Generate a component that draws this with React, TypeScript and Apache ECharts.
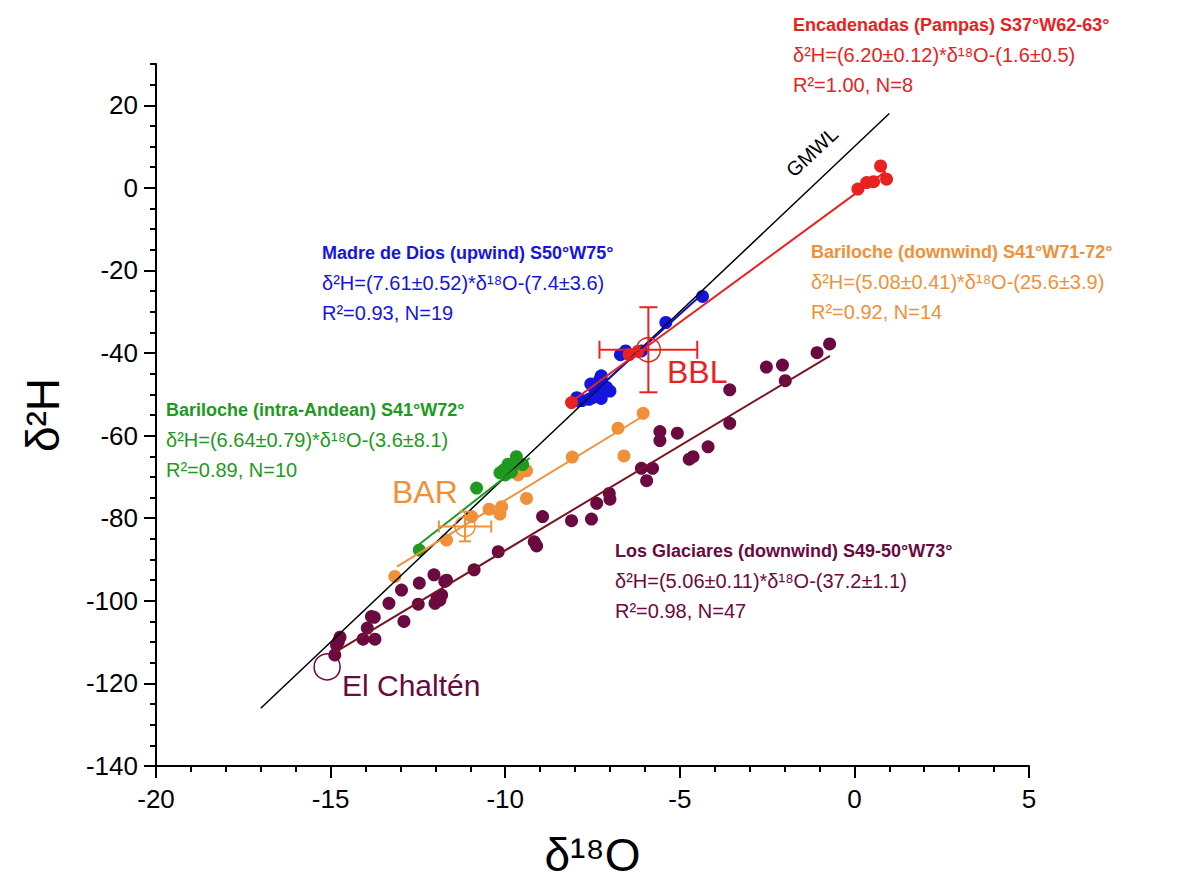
import React, { useEffect, useRef } from "react";
import * as echarts from "echarts";

const FONT = "'Liberation Sans', Arial, sans-serif";

const yTicks = [-140, -120, -100, -80, -60, -40, -20, 0, 20];

// Encadenadas (Pampas)
const encadenadas = [
  [-8.1, -52.0], [-6.45, -40.4], [-6.2, -39.6],
  [0.1, -0.3], [0.35, 1.3], [0.55, 1.5], [0.75, 5.3], [0.92, 2.1],
];
// Madre de Dios (upwind)
const madreDeDios = [
  [-4.35, -26.3], [-5.4, -32.6], [-6.1, -39.5], [-6.55, -39.5], [-6.7, -40.4],
  [-7.25, -45.5], [-7.3, -46.5], [-7.55, -47.5], [-7.45, -48.5], [-7.1, -48.3],
  [-7.2, -49.5], [-7.35, -50.5], [-7.5, -50.8], [-7.6, -51.2], [-7.0, -49.2],
  [-7.8, -51.5], [-7.95, -50.8], [-7.25, -51.0], [-7.4, -49.8],
];
// Bariloche (downwind)
const barilocheDown = [
  [-6.05, -54.6], [-6.77, -58.2], [-6.6, -64.9], [-8.08, -65.2], [-9.39, -68.5],
  [-9.63, -69.5], [-9.5, -68.2], [-9.39, -75.2], [-10.1, -77.2], [-10.46, -77.8],
  [-10.15, -79.0], [-10.96, -79.6], [-11.68, -85.3], [-13.16, -94.1],
];
// Bariloche (intra-Andean)
const barilocheIntra = [
  [-9.68, -65.1], [-9.92, -66.9], [-10.15, -69.0], [-10.04, -68.3], [-9.82, -68.8],
  [-9.5, -67.0], [-10.82, -72.7], [-12.46, -87.7], [-9.75, -67.0], [-10.0, -69.5],
];
// Los Glaciares (downwind)
const losGlaciares = [
  [-0.71, -37.8], [-1.07, -39.9], [-1.98, -46.7], [-2.06, -42.9], [-2.52, -43.4],
  [-3.57, -48.9], [-3.57, -57.0], [-4.19, -62.7], [-4.62, -65.1], [-4.73, -65.7],
  [-5.07, -59.4], [-5.57, -59.0], [-5.57, -61.2], [-5.78, -67.9], [-6.1, -67.9],
  [-5.95, -70.9], [-7.02, -74.0], [-7.0, -75.4], [-7.38, -76.4], [-7.53, -80.2],
  [-8.1, -80.6], [-8.93, -79.6], [-9.17, -85.7], [-9.1, -86.7], [-10.2, -88.1],
  [-10.89, -92.5], [-12.04, -93.7], [-11.73, -95.3], [-12.46, -95.7], [-12.97, -97.4],
  [-11.82, -98.6], [-11.87, -99.8], [-12.01, -100.6], [-12.49, -100.8], [-13.33, -100.6],
  [-13.83, -103.8], [-13.75, -104.0], [-12.9, -105.0], [-13.95, -106.6], [-14.73, -108.8],
  [-14.78, -109.9], [-14.07, -109.3], [-13.73, -109.3], [-14.83, -110.7], [-14.88, -113.1],
  [-11.68, -95.0], [-11.95, -99.2],
];

// Fit lines (end points)
const gmwlLine = [[-17, -126], [1, 18]];
const encadenadasFit = [[-8.2, -52.4], [0.9, 4.0]];
const madreDeDiosFit = [[-7.95, -53.1], [-4.3, -25.3]];
const barilocheDownFit = [[-13.1, -91.7], [-6.0, -55.0]];
const barilocheIntraFit = [[-12.46, -86.3], [-9.3, -65.4]];
const losGlaciaresFit = [[-14.9, -112.6], [-0.7, -40.7]];

// Reference points: [x, y, xErr, yErr]
const bbl = [[-5.9, -39.2, 1.4, 10.3]];
const bar = [[-11.15, -82.0, 0.75, 3.6]];
const elChalten = [[-15.1, -116.0]];

const RED = "#E8221F";
const BLUE = "#1515E0";
const ORANGE = "#F0913A";
const GREEN = "#1E9A1E";
const PURPLE = "#6A0A40";
const PURPLE_LINE = "#7A1525";

function scatter(name: string, data: number[][], color: string) {
  return {
    name,
    type: "scatter",
    data,
    symbolSize: 13,
    itemStyle: { color, opacity: 1 },
    z: 2,
  };
}

function fit(name: string, data: number[][], color: string, width = 2) {
  return {
    name,
    type: "line",
    data,
    showSymbol: false,
    symbol: "none",
    lineStyle: { color, width },
    z: 3,
    silent: true,
  };
}

function errorBars(name: string, data: number[][], color: string, cap: number) {
  return {
    name,
    type: "custom",
    data,
    z: 4,
    renderItem: (params: any, api: any) => {
      const x = api.value(0);
      const y = api.value(1);
      const ex = api.value(2);
      const ey = api.value(3);
      const l = api.coord([x - ex, y]);
      const r = api.coord([x + ex, y]);
      const t = api.coord([x, y + ey]);
      const b = api.coord([x, y - ey]);
      const style = { stroke: color, lineWidth: 2 };
      return {
        type: "group",
        children: [
          { type: "line", shape: { x1: l[0], y1: l[1], x2: r[0], y2: r[1] }, style },
          { type: "line", shape: { x1: t[0], y1: t[1], x2: b[0], y2: b[1] }, style },
          { type: "line", shape: { x1: l[0], y1: l[1] - cap, x2: l[0], y2: l[1] + cap }, style },
          { type: "line", shape: { x1: r[0], y1: r[1] - cap, x2: r[0], y2: r[1] + cap }, style },
          { type: "line", shape: { x1: t[0] - cap, y1: t[1], x2: t[0] + cap, y2: t[1] }, style },
          { type: "line", shape: { x1: b[0] - cap, y1: b[1], x2: b[0] + cap, y2: b[1] }, style },
        ],
      };
    },
  };
}

function openCircle(name: string, data: number[][], color: string, size: number) {
  return {
    name,
    type: "scatter",
    data: data.map((d) => [d[0], d[1]]),
    symbolSize: size,
    itemStyle: { color: "rgba(255,255,255,0)", borderColor: color, borderWidth: 1.5, opacity: 1 },
    z: 5,
  };
}

function textBlock(x: number, y: number, color: string, lines: string[]) {
  return lines.map((t, i) => ({
    type: "text",
    x,
    y: y + i * 30,
    z: 10,
    style: {
      text: t,
      fill: color,
      font: i === 0 ? `bold 18px ${FONT}` : `20px ${FONT}`,
      verticalAlign: "middle",
    },
  }));
}

function label(x: number, y: number, color: string, text: string, size: number, rotation = 0) {
  return {
    type: "text",
    x,
    y,
    rotation,
    z: 10,
    style: {
      text,
      fill: color,
      font: `${size}px ${FONT}`,
      verticalAlign: "middle",
      align: rotation ? "center" : "left",
    },
  };
}

export default function App() {
  const ref = useRef<HTMLDivElement>(null);
  useEffect(() => {
    document.body.style.margin = "0";
    const chart = echarts.init(ref.current!, undefined, { renderer: "svg" });
    const line = () => ({ color: "#000", width: 2 });
    chart.setOption({
      animation: false,
      backgroundColor: "#fff",
      grid: {
        left: 156,
        top: 64,
        width: 873,
        height: 702,
        containLabel: false,
        outerBoundsMode: "none",
      },
      xAxis: {
        type: "value",
        min: -20,
        max: 5,
        interval: 5,
        name: "δ¹⁸O",
        nameLocation: "middle",
        nameGap: 66,
        nameTextStyle: { fontSize: 46, color: "#000", fontFamily: FONT },
        axisLine: { onZero: false, lineStyle: line() },
        axisTick: { show: true, length: 12, lineStyle: line() },
        minorTick: { show: true, splitNumber: 5, length: 6, lineStyle: line() },
        axisLabel: { fontSize: 26, color: "#000", margin: 20, fontFamily: FONT },
        splitLine: { show: false },
      },
      yAxis: [
        {
          type: "value",
          min: -140,
          max: 30,
          interval: 20,
          position: "left",
          name: "δ²H",
          nameLocation: "middle",
          nameGap: 90,
          nameRotate: 90,
          nameTextStyle: { fontSize: 46, color: "#000", fontFamily: FONT },
          axisLine: { show: true, onZero: false, lineStyle: line() },
          axisTick: { show: false },
          axisLabel: { fontSize: 26, color: "#000", margin: 18, fontFamily: FONT, customValues: yTicks },
          splitLine: { show: false },
        },
        {
          type: "value",
          min: -140,
          max: 30,
          interval: 20,
          position: "left",
          offset: 0,
          axisLine: { show: false, onZero: false },
          axisTick: { show: true, length: 12, lineStyle: line(), customValues: yTicks },
          axisLabel: { show: false },
          splitLine: { show: false },
        },
        {
          type: "value",
          min: -140,
          max: 30,
          interval: 5,
          position: "left",
          offset: 0,
          axisLine: { show: false, onZero: false },
          axisTick: { show: true, length: 6, lineStyle: line() },
          axisLabel: { show: false },
          splitLine: { show: false },
        },
      ],
      series: [
        scatter("Los Glaciares", losGlaciares, PURPLE),
        scatter("Bariloche downwind", barilocheDown, ORANGE),
        scatter("Bariloche intra-Andean", barilocheIntra, GREEN),
        scatter("Madre de Dios", madreDeDios, BLUE),
        scatter("Encadenadas", encadenadas, RED),
        fit("GMWL", gmwlLine, "#000", 1.5),
        fit("Los Glaciares fit", losGlaciaresFit, PURPLE_LINE),
        fit("Bariloche downwind fit", barilocheDownFit, ORANGE),
        fit("Bariloche intra-Andean fit", barilocheIntraFit, GREEN),
        fit("Madre de Dios fit", madreDeDiosFit, "#1010B0"),
        fit("Encadenadas fit", encadenadasFit, RED),
        errorBars("BBL err", bbl, RED, 9),
        errorBars("BAR err", bar, ORANGE, 6),
        openCircle("BBL", bbl, RED, 24),
        openCircle("BAR", bar, ORANGE, 20),
        openCircle("El Chaltén", elChalten, PURPLE, 26),
      ],
      graphic: [
        ...textBlock(793, 25, RED, [
          "Encadenadas (Pampas) S37°W62-63°",
          "δ²H=(6.20±0.12)*δ¹⁸O-(1.6±0.5)",
          "R²=1.00, N=8",
        ]),
        ...textBlock(322, 253, BLUE, [
          "Madre de Dios (upwind) S50°W75°",
          "δ²H=(7.61±0.52)*δ¹⁸O-(7.4±3.6)",
          "R²=0.93, N=19",
        ]),
        ...textBlock(811, 252, ORANGE, [
          "Bariloche (downwind) S41°W71-72°",
          "δ²H=(5.08±0.41)*δ¹⁸O-(25.6±3.9)",
          "R²=0.92, N=14",
        ]),
        ...textBlock(166, 410, GREEN, [
          "Bariloche (intra-Andean) S41°W72°",
          "δ²H=(6.64±0.79)*δ¹⁸O-(3.6±8.1)",
          "R²=0.89, N=10",
        ]),
        ...textBlock(615, 551, PURPLE, [
          "Los Glaciares (downwind) S49-50°W73°",
          "δ²H=(5.06±0.11)*δ¹⁸O-(37.2±1.1)",
          "R²=0.98, N=47",
        ]),
        label(667, 372, RED, "BBL", 32),
        label(392, 492, ORANGE, "BAR", 32),
        label(342, 685, PURPLE, "El Chaltén", 30),
        label(812, 152, "#000", "GMWL", 20, (43 * Math.PI) / 180),
      ],
    });
    return () => chart.dispose();
  }, []);
  return <div ref={ref} style={{ width: 1194, height: 886 }} />;
}
